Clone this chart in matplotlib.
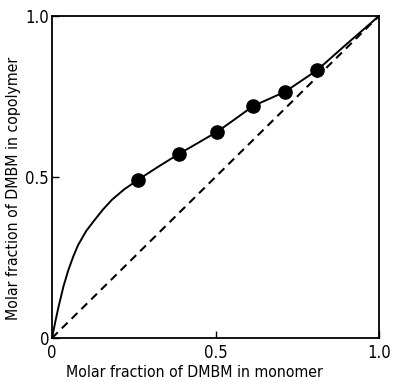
import matplotlib
matplotlib.use("Agg")
import matplotlib.pyplot as plt

# measured points (monomer fraction, copolymer fraction)
x_pts = [0.264, 0.387, 0.506, 0.616, 0.713, 0.811]
y_pts = [0.492, 0.571, 0.641, 0.721, 0.765, 0.832]

# curve
x_curve = [0.0, 0.01, 0.02, 0.035, 0.05, 0.065, 0.08, 0.105, 0.13, 0.155, 0.183, 0.22, 0.264,
           0.325, 0.387, 0.445, 0.506, 0.56, 0.616, 0.665, 0.713, 0.76, 0.811, 0.9, 1.0]
y_curve = [0.0, 0.05, 0.097, 0.16, 0.211, 0.253, 0.289, 0.333, 0.366, 0.398, 0.429, 0.461, 0.492,
           0.532, 0.571, 0.605, 0.641, 0.68, 0.721, 0.743, 0.765, 0.797, 0.832, 0.912, 1.0]

plt.rcParams['font.family'] = ['DejaVu Sans']
plt.rcParams['font.stretch'] = 'condensed'

fig = plt.figure(figsize=(3.93, 3.81), dpi=100)
ax = fig.add_axes([52/393, 1 - 338/381, 327/393, 322/381])

ax.plot([0, 1], [0, 1], color='black', lw=1.5, dashes=(3.9, 2.7))
ax.plot(x_curve, y_curve, color='black', lw=1.4)
ax.plot(x_pts, y_pts, 'o', color='black', markersize=9.5)

ax.set_xlim(0, 1)
ax.set_ylim(0, 1)
ax.set_xticks([0, 0.5, 1.0])
ax.set_yticks([0, 0.5, 1.0])
ax.set_xticklabels(['0', '0.5', '1.0'])
ax.set_yticklabels(['0', '0.5', '1.0'])
ax.tick_params(direction='in', length=5, width=1, labelsize=12, pad=4)
ax.tick_params(axis='y', pad=2)
for s in ax.spines.values():
    s.set_linewidth(1.3)

ax.set_xlabel('Molar fraction of DMBM in monomer', fontsize=11.3, stretch='condensed')
ax.set_ylabel('Molar fraction of DMBM in copolymer', fontsize=11.3, stretch='condensed')
ax.xaxis.set_label_coords(0.437, -0.085)
ax.yaxis.set_label_coords(-0.095, 0.466)

fig.savefig('out.png', dpi=100)
